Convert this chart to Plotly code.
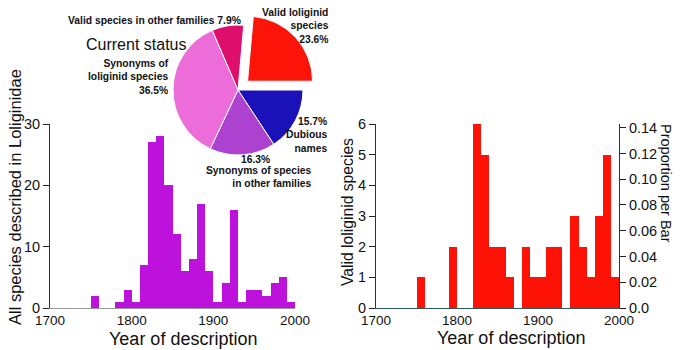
import plotly.graph_objects as go

# ---- data ----
bin_starts = [1750, 1760, 1770, 1780, 1790, 1800, 1810, 1820, 1830, 1840, 1850, 1860,
              1870, 1880, 1890, 1900, 1910, 1920, 1930, 1940, 1950, 1960, 1970, 1980, 1990]
all_species = [2, 0, 0, 1, 3, 1, 7, 27, 28, 20, 12, 6, 8, 17, 6, 1, 4, 16, 1, 3, 3, 2, 4, 5, 1]
valid_species = [1, 0, 0, 0, 2, 0, 0, 6, 5, 2, 2, 1, 0, 2, 1, 1, 2, 2, 0, 3, 2, 1, 3, 5, 1]

status_labels = ["Dubious names", "Synonyms of species in other families",
                 "Synonyms of loliginid species", "Valid species in other families",
                 "Valid loliginid species"]
status_counts = [28, 29, 65, 14, 42]
status_colors = ["#1A12B8", "#AE42D0", "#EC6CDA", "#DE0E6C", "#FC1408"]
status_pull = [0, 0, 0, 0, 0.2]

x_ticks = [1700, 1800, 1900, 2000]
left_y_ticks = [0, 10, 20, 30]
right_y_ticks = [0, 1, 2, 3, 4, 5, 6]
prop_ticks = [0.0, 0.02, 0.04, 0.06, 0.08, 0.10, 0.12, 0.14]
prop_tick_text = ["0.0", "0.02", "0.04", "0.06", "0.08", "0.10", "0.12", "0.14"]

x_title = "Year of description"
left_y_title = "All species described in Loliginidae"
right_y_title = "Valid loliginid species"
prop_title = "Proportion per Bar"
pie_title = "Current status"

bin_width = 10
bin_centers = [b + bin_width / 2 for b in bin_starts]
total_all = sum(status_counts)
total_valid = sum(valid_species)
pct = [100 * c / total_all for c in status_counts]

W, H = 685, 350
def px(x):
    return x / W
def py(y):
    return 1 - y / H

font = "Liberation Sans, Arial, sans-serif"

fig = go.Figure()

fig.add_trace(go.Bar(x=bin_centers, y=all_species, width=bin_width,
                     marker=dict(color="#BC12DC", line=dict(width=0)),
                     xaxis="x", yaxis="y", showlegend=False))
fig.add_trace(go.Bar(x=bin_centers, y=valid_species, width=bin_width,
                     marker=dict(color="#FF1206", line=dict(width=0)),
                     xaxis="x2", yaxis="y2", showlegend=False))
# invisible trace on proportion axis
fig.add_trace(go.Scatter(x=[bin_centers[0]], y=[valid_species[0] / total_valid],
                         mode="markers", marker=dict(opacity=0),
                         xaxis="x2", yaxis="y3", showlegend=False, hoverinfo="skip"))

fig.add_trace(go.Pie(values=status_counts, labels=status_labels, sort=False,
                     direction="clockwise", rotation=90, pull=status_pull,
                     marker=dict(colors=status_colors, line=dict(color="white", width=1)),
                     textinfo="none", showlegend=False,
                     domain=dict(x=[px(160), px(316)], y=[py(168), py(12)])))

ydom = [py(308), py(124)]
tickfont = dict(family=font, size=14.5, color="#111")
xtickfont = dict(family=font, size=13.5, color="#111")
axis_common = dict(showgrid=False, zeroline=False, color="#222", automargin=False)

fig.update_layout(
    width=W, height=H, margin=dict(l=0, r=0, t=0, b=0, autoexpand=False),
    paper_bgcolor="white", plot_bgcolor="white", bargap=0,
    xaxis=dict(domain=[px(50), px(295)], range=[1700, 2000], tickvals=x_ticks,
               ticks="", showline=True, linecolor="#999", linewidth=1, tickfont=xtickfont,
               ticklabelstandoff=0, anchor="y", **axis_common),
    yaxis=dict(domain=ydom, range=[0, 30], tickvals=left_y_ticks, ticks="outside",
               ticklen=6, showline=True, linecolor="#333", linewidth=1, tickfont=tickfont,
               anchor="x", **axis_common),
    xaxis2=dict(domain=[px(376), px(619)], range=[1700, 2000], tickvals=x_ticks,
                ticks="", showline=True, linecolor="#2a5a5a", linewidth=1, tickfont=xtickfont,
                ticklabelstandoff=0, anchor="y2", **axis_common),
    yaxis2=dict(domain=ydom, range=[0, 6], tickvals=right_y_ticks, ticks="outside",
                ticklen=6, showline=True, linecolor="#333", linewidth=1, tickfont=tickfont,
                anchor="x2", **axis_common),
    yaxis3=dict(range=[0, 6 / total_valid], tickvals=prop_ticks, ticktext=prop_tick_text,
                ticks="outside", ticklen=6, showline=True, linecolor="#333", linewidth=1,
                tickfont=tickfont, overlaying="y2", side="right", anchor="x2", **axis_common),
)

def ann(x, y, text, align="right", xanchor="right", size=10.3, bold=True, angle=0):
    t = f"<b>{text}</b>" if bold else text
    fig.add_annotation(x=px(x), y=py(y), xref="paper", yref="paper", text=t,
                       showarrow=False, align=align, xanchor=xanchor, yanchor="middle",
                       textangle=angle,
                       font=dict(family=font, size=size, color="#111"))

# pie labels
ann(243, 20, f"{status_labels[3]} {pct[3]:.1f}%")
ann(331, 26, f"Valid loliginid<br>species<br>{pct[4]:.1f}%")
ann(171, 77, f"Synonyms of<br>loliginid species<br>{pct[2]:.1f}%")
ann(329, 135, f"{pct[0]:.1f}%<br>Dubious<br>names")
ann(256, 160, f"{pct[1]:.1f}%", xanchor="center", align="center")
ann(314, 177, "Synonyms of species<br>in other families")
ann(136, 45, pie_title, xanchor="center", align="center", size=16, bold=False)

# axis titles
ann(183, 339, x_title, xanchor="center", align="center", size=18, bold=False)
ann(511, 338, x_title, xanchor="center", align="center", size=18, bold=False)
ann(15, 197, left_y_title, xanchor="center", align="center", size=16.5, bold=False, angle=-90)
ann(347, 212, right_y_title, xanchor="center", align="center", size=15.7, bold=False, angle=-90)
ann(666, 183, prop_title, xanchor="center", align="center", size=14.5, bold=False, angle=90)

fig.write_html("out.html")
